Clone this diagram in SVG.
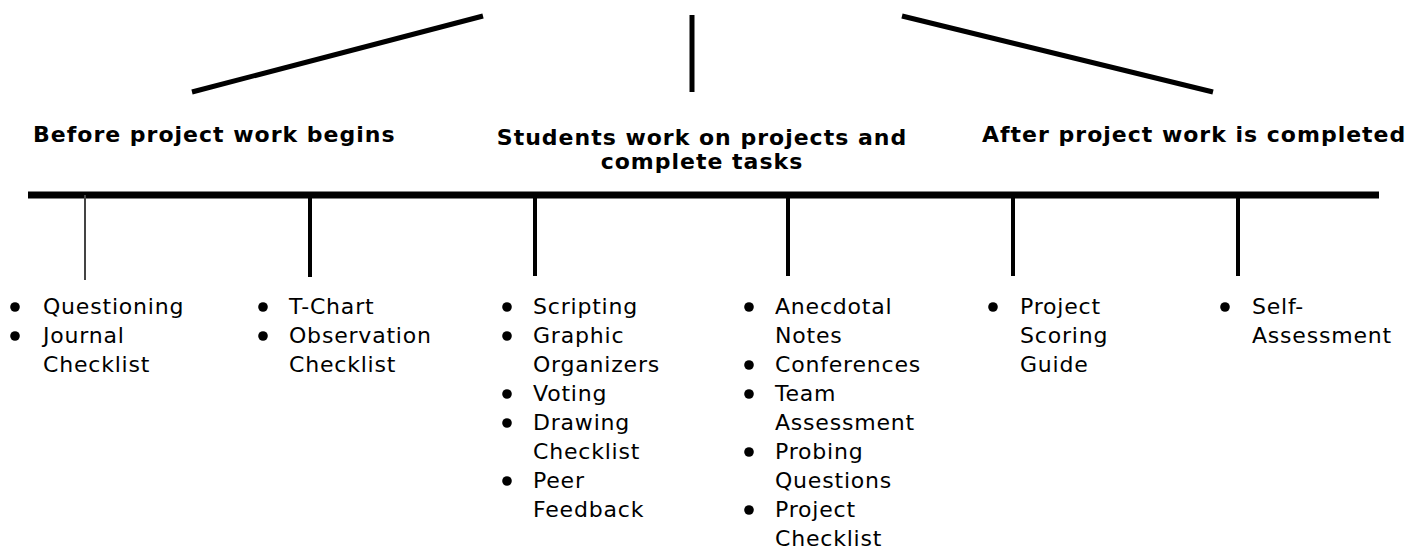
<svg xmlns="http://www.w3.org/2000/svg" width="1426" height="551" viewBox="0 0 1426 551">
<style>
.t{font-family:"DejaVu Sans",Verdana,sans-serif;font-weight:bold;font-size:22px;letter-spacing:1px;fill:#000}
.b{font-family:"DejaVu Sans",Verdana,sans-serif;font-size:22px;letter-spacing:0.8px;fill:#000}
.ln{stroke:#000;stroke-linecap:butt;fill:none}
.dot{fill:#000}
</style>
<rect width="1426" height="551" fill="#fff"/>
<g id="connectors">
<line class="ln" x1="192" y1="92" x2="483" y2="16" stroke-width="5"/>
<line class="ln" x1="692" y1="15" x2="692" y2="92" stroke-width="5"/>
<line class="ln" x1="902" y1="16" x2="1213" y2="92" stroke-width="5"/>
<line class="ln" x1="28" y1="195" x2="1379" y2="195" stroke-width="7"/>
<line class="ln" x1="85" y1="195" x2="85" y2="280" stroke-width="2" style="stroke:#444"/>
<line class="ln" x1="310" y1="195" x2="310" y2="277" stroke-width="4"/>
<line class="ln" x1="535" y1="195" x2="535" y2="276" stroke-width="4"/>
<line class="ln" x1="788" y1="195" x2="788" y2="276" stroke-width="4"/>
<line class="ln" x1="1013" y1="195" x2="1013" y2="276" stroke-width="4"/>
<line class="ln" x1="1238" y1="195" x2="1238" y2="276" stroke-width="4"/>
</g>
<g id="title-before"><text class="t" x="33" y="142">Before project work begins</text></g>
<g id="title-during"><text class="t" x="702" y="145" text-anchor="middle">Students work on projects and</text><text class="t" x="702" y="169" text-anchor="middle">complete tasks</text></g>
<g id="title-after"><text class="t" x="982" y="142">After project work is completed</text></g>
<g id="list1">
<circle class="dot" cx="15" cy="307" r="4.8"/><circle class="dot" cx="15" cy="336" r="4.8"/>
<text class="b" x="43" y="314">Questioning</text><text class="b" x="43" y="343">Journal</text><text class="b" x="43" y="372">Checklist</text>
</g>
<g id="list2">
<circle class="dot" cx="263" cy="307" r="4.8"/><circle class="dot" cx="263" cy="336" r="4.8"/>
<text class="b" x="289" y="314">T-Chart</text><text class="b" x="289" y="343">Observation</text><text class="b" x="289" y="372">Checklist</text>
</g>
<g id="list3">
<circle class="dot" cx="507" cy="307" r="4.8"/><circle class="dot" cx="507" cy="336" r="4.8"/><circle class="dot" cx="507" cy="394" r="4.8"/><circle class="dot" cx="507" cy="423" r="4.8"/><circle class="dot" cx="507" cy="481" r="4.8"/>
<text class="b" x="533" y="314">Scripting</text><text class="b" x="533" y="343">Graphic</text><text class="b" x="533" y="372">Organizers</text><text class="b" x="533" y="401">Voting</text><text class="b" x="533" y="430">Drawing</text><text class="b" x="533" y="459">Checklist</text><text class="b" x="533" y="488">Peer</text><text class="b" x="533" y="517">Feedback</text>
</g>
<g id="list4">
<circle class="dot" cx="749" cy="307" r="4.8"/><circle class="dot" cx="749" cy="365" r="4.8"/><circle class="dot" cx="749" cy="394" r="4.8"/><circle class="dot" cx="749" cy="452" r="4.8"/><circle class="dot" cx="749" cy="510" r="4.8"/>
<text class="b" x="775" y="314">Anecdotal</text><text class="b" x="775" y="343">Notes</text><text class="b" x="775" y="372">Conferences</text><text class="b" x="775" y="401">Team</text><text class="b" x="775" y="430">Assessment</text><text class="b" x="775" y="459">Probing</text><text class="b" x="775" y="488">Questions</text><text class="b" x="775" y="517">Project</text><text class="b" x="775" y="546">Checklist</text>
</g>
<g id="list5">
<circle class="dot" cx="993" cy="307" r="4.8"/>
<text class="b" x="1020" y="314">Project</text><text class="b" x="1020" y="343">Scoring</text><text class="b" x="1020" y="372">Guide</text>
</g>
<g id="list6">
<circle class="dot" cx="1225" cy="307" r="4.8"/>
<text class="b" x="1252" y="314">Self-</text><text class="b" x="1252" y="343">Assessment</text>
</g>
</svg>
